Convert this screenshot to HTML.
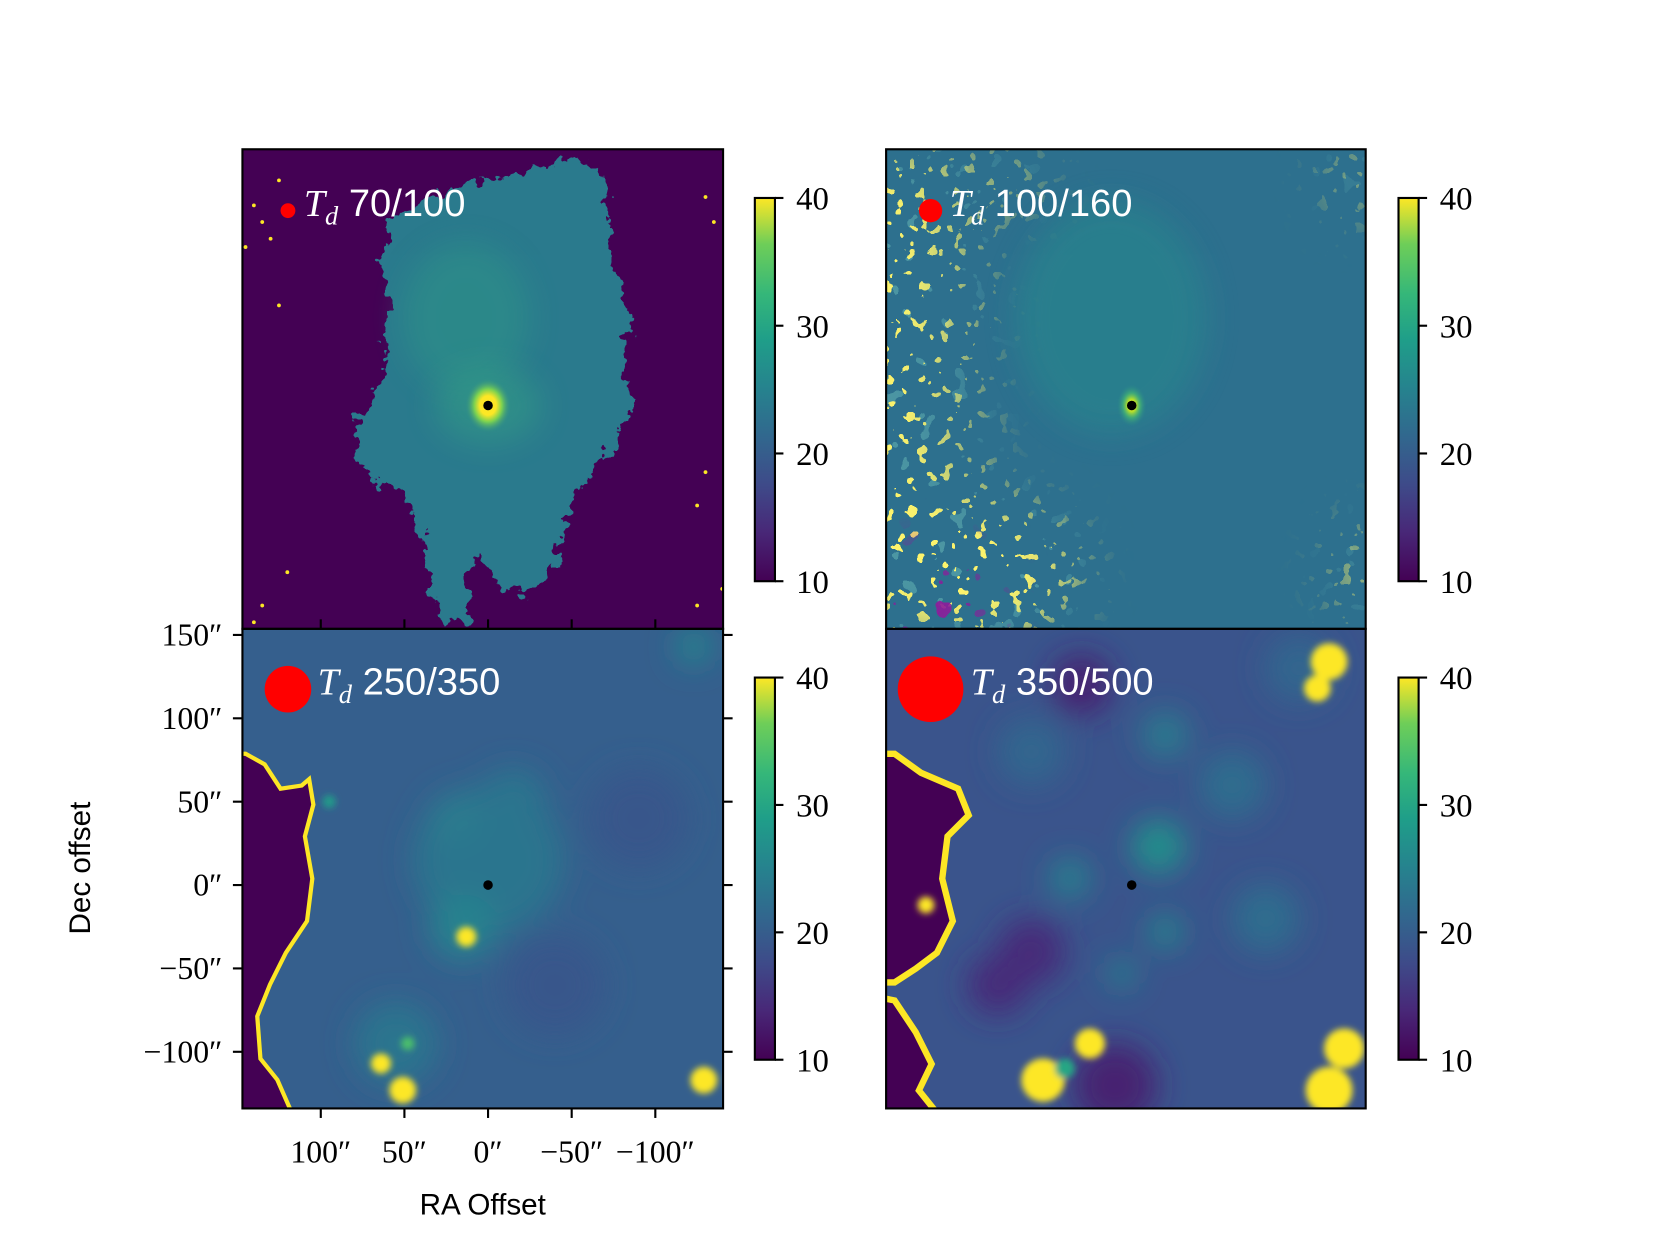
<!DOCTYPE html>
<html><head><meta charset="utf-8"><style>html,body{margin:0;padding:0;background:#fff}svg{display:block}</style></head>
<body>
<svg id="fig" width="1660" height="1245" viewBox="0 0 1568 1176" preserveAspectRatio="none" xmlns="http://www.w3.org/2000/svg">
<defs>
  <linearGradient id="vir" x1="0" y1="1" x2="0" y2="0">
    <stop offset="0" stop-color="#440154"/><stop offset="0.13" stop-color="#482878"/>
    <stop offset="0.25" stop-color="#3e4a89"/><stop offset="0.38" stop-color="#31688e"/>
    <stop offset="0.5" stop-color="#26828e"/><stop offset="0.63" stop-color="#1f9e89"/>
    <stop offset="0.75" stop-color="#35b779"/><stop offset="0.88" stop-color="#6ece58"/>
    <stop offset="1" stop-color="#fde725"/>
  </linearGradient>
  <clipPath id="c1"><rect x="229" y="141" width="454" height="453"/></clipPath>
  <clipPath id="c2"><rect x="837" y="141" width="453" height="453"/></clipPath>
  <clipPath id="c3"><rect x="229" y="594" width="454" height="453"/></clipPath>
  <clipPath id="c4"><rect x="837" y="594" width="453" height="453"/></clipPath>
  <filter id="rag" x="-10%" y="-10%" width="120%" height="120%">
    <feTurbulence type="fractalNoise" baseFrequency="0.08" numOctaves="3" seed="3"/>
    <feDisplacementMap in="SourceGraphic" scale="26" xChannelSelector="R" yChannelSelector="G"/>
  </filter>
  <filter id="b10" x="-50%" y="-50%" width="200%" height="200%"><feGaussianBlur stdDeviation="14"/></filter>
  <filter id="b20" x="-50%" y="-50%" width="200%" height="200%"><feGaussianBlur stdDeviation="25"/></filter>
  <filter id="b4" x="-50%" y="-50%" width="200%" height="200%"><feGaussianBlur stdDeviation="3"/></filter>
  <filter id="speck" x="0" y="0" width="100%" height="100%">
    <feTurbulence type="fractalNoise" baseFrequency="0.09" numOctaves="2" seed="7" result="n"/>
    <feColorMatrix in="n" type="matrix" values="0 0 0 0 0.99  0 0 0 0 0.9  0 0 0 0 0.15  1 0 0 0 0" result="c"/>
    <feComponentTransfer in="c"><feFuncA type="discrete" tableValues="0 0 0 0 0 0 0 0 1 1 1 1"/></feComponentTransfer>
  </filter>
  <filter id="speckg" x="0" y="0" width="100%" height="100%">
    <feTurbulence type="fractalNoise" baseFrequency="0.06" numOctaves="2" seed="21" result="n"/>
    <feColorMatrix in="n" type="matrix" values="0 0 0 0 0.2  0 0 0 0 0.62  0 0 0 0 0.54  1 0 0 0 0" result="c"/>
    <feComponentTransfer in="c"><feFuncA type="discrete" tableValues="0 0 0 0 0 0 0 0.4 0.4 0.4"/></feComponentTransfer>
  </filter>
  <filter id="speckd" x="0" y="0" width="100%" height="100%">
    <feTurbulence type="fractalNoise" baseFrequency="0.06" numOctaves="2" seed="11" result="n"/>
    <feColorMatrix in="n" type="matrix" values="0 0 0 0 0.27  0 0 0 0 0.01  0 0 0 0 0.33  0 1 0 0 0" result="c"/>
    <feComponentTransfer in="c"><feFuncA type="discrete" tableValues="0 0 0 0 0 0 0 1 1 1"/></feComponentTransfer>
  </filter>
  <mask id="m2"><g filter="url(#b20)">
    <rect x="780" y="141" width="100" height="453" fill="#fff"/>
    <rect x="880" y="141" width="50" height="453" fill="#999"/>
    <ellipse cx="910" cy="540" rx="110" ry="70" fill="#fff"/>
    <ellipse cx="1290" cy="540" rx="30" ry="50" fill="#aaa"/>
    <ellipse cx="1280" cy="170" rx="25" ry="40" fill="#999"/>
    <ellipse cx="930" cy="170" rx="60" ry="30" fill="#999"/>
  </g></mask>
  <mask id="m2d"><ellipse cx="880" cy="570" rx="60" ry="50" fill="#fff" filter="url(#b20)"/></mask>
  <radialGradient id="core"><stop offset="0" stop-color="#fde725"/><stop offset="0.35" stop-color="#fde725"/><stop offset="0.6" stop-color="#7ad151"/><stop offset="1" stop-color="#2a8a8a" stop-opacity="0"/></radialGradient>
  <radialGradient id="core2"><stop offset="0" stop-color="#fde725"/><stop offset="0.3" stop-color="#b5de2b"/><stop offset="0.6" stop-color="#4ac16d" stop-opacity="0.6"/><stop offset="1" stop-color="#2a8a8a" stop-opacity="0"/></radialGradient>
</defs>

<g clip-path="url(#c1)">
  <rect x="229" y="141" width="454" height="453" fill="#440154"/>
  <path filter="url(#rag)" fill="#2b7a8d" d="M420,180 L480,165 L540,150 L570,160 L575,210 L582,260 L598,300 L588,340 L598,380 L580,420 L560,440 L545,470 L530,505 L520,545 L500,560 L470,555 L455,520 L440,545 L445,585 L425,590 L405,555 L400,505 L380,465 L355,455 L338,440 L335,405 L350,380 L362,355 L368,300 L360,250 L370,205 Z"/>
  <ellipse cx="440" cy="300" rx="60" ry="70" fill="#2f9a86" opacity="0.45" filter="url(#b10)"/>
  <ellipse cx="461" cy="383" rx="50" ry="36" fill="#35a683" opacity="0.45" filter="url(#b10)"/>
  <ellipse cx="461" cy="383" rx="22" ry="26" fill="url(#core)"/>
  <g id="p1-specks"></g>
</g>
<g clip-path="url(#c2)">
  <rect x="837" y="141" width="453" height="453" fill="#2d708e"/>
  <ellipse cx="1050" cy="300" rx="90" ry="110" fill="#27888d" opacity="0.6" filter="url(#b10)"/>
  <rect x="837" y="141" width="453" height="453" filter="url(#speckg)" mask="url(#m2)"/>
  <rect x="837" y="141" width="453" height="453" filter="url(#speck)" mask="url(#m2)"/>
  <rect x="837" y="141" width="453" height="453" filter="url(#speckd)" mask="url(#m2d)"/>
  <ellipse cx="1069" cy="383" rx="14" ry="20" fill="url(#core2)"/>
</g>
<g clip-path="url(#c3)">
  <rect x="229" y="594" width="454" height="453" fill="#355f8d"/>
  <g id="p3-soft" filter="url(#b10)"></g>
  <path fill="#440154" stroke="#fde725" stroke-width="4" d="M210,712 L232,712 L250,722 L265,745 L285,742 L292,736 L296,760 L288,790 L295,830 L290,870 L270,900 L255,930 L243,960 L246,1000 L262,1020 L276,1052 L210,1052 Z"/>
  <g id="p3-hot" filter="url(#b4)"></g>
</g>
<g clip-path="url(#c4)">
  <rect x="837" y="594" width="453" height="453" fill="#3a548c"/>
  <g id="p4-soft" filter="url(#b10)"></g>
  <path fill="#440154" stroke="#fde725" stroke-width="6" d="M820,712 L845,712 L870,730 L905,745 L915,770 L895,790 L890,830 L900,870 L885,900 L865,915 L845,928 L820,928 Z"/>
  <path fill="#440154" stroke="#fde725" stroke-width="6" d="M820,940 L845,945 L865,975 L880,1005 L868,1030 L888,1055 L820,1055 Z"/>
  <g id="p4-hot" filter="url(#b4)"></g>
</g>

<g id="frames" fill="none" stroke="#000" stroke-width="2">
  <rect x="229" y="141" width="454" height="453"/>
  <rect x="837" y="141" width="453" height="453"/>
  <rect x="229" y="594" width="454" height="453"/>
  <rect x="837" y="594" width="453" height="453"/>
</g>
<g id="overlays"></g>
<g id="axes"></g>
<text x="456" y="1147" font-family="Liberation Sans, sans-serif" font-size="28" text-anchor="middle">RA Offset</text>
<text transform="translate(85,820) rotate(-90)" font-family="Liberation Sans, sans-serif" font-size="28" text-anchor="middle">Dec offset</text>
</svg>
<script>
const NS = 'http://www.w3.org/2000/svg';
const panelCenters = [[461,383],[1069,383],[461,836],[1069,836]];
const panelTitles = ['70/100','100/160','250/350','350/500'];
const beamSizes = [7, 11, 22, 31];
const cbarTicks = [10, 20, 30, 40];
const xTickVals = [100, 50, 0, -50, -100];
const yTickVals = [150, 100, 50, 0, -50, -100];
// patches: [ra, dec, radius(arcsec), T]
const p3Soft = [[0,15,45,23],[15,-25,20,25],[-15,50,20,23],[55,-95,25,23],[-123,143,10,26],[20,40,15,24],[-40,-60,30,19],[-90,40,30,19]];
const p3Hot = [[13,-31,6,40],[64,-107,6,40],[51,-123,8,40],[48,-95,4,34],[-129,-117,8,40],[95,50,4,28]];
const p4Soft = [[-16,23,16,27],[37,4,12,25],[-20,-28,10,26],[6,-53,8,26],[30,120,18,13],[-60,60,20,22],[60,-40,20,14],[-80,-20,20,22],[-20,90,14,24],[10,-120,25,13],[80,-60,18,14],[-100,130,20,21],[60,80,20,21]];
const p4Hot = [[-118,134,11,40],[-111,118,8,40],[53,-117,13,40],[25,-95,9,40],[-127,-98,12,40],[-118,-123,14,40],[123,-12,5,40],[40,-110,6,30]];
const p1Specks = [[140,120],[135,110],[130,100],[145,95],[125,135],[-130,125],[-135,110],[-140,-110],[-125,-120],[135,-120],[140,-130],[-130,-40],[-125,-60],[125,60],[120,-100]];

const cmap = [[10,[68,1,84]],[13.75,[72,40,120]],[17.5,[62,74,137]],[21.25,[49,104,142]],[25,[38,130,142]],[28.75,[31,158,137]],[32.5,[53,183,121]],[36.25,[110,206,88]],[40,[253,231,37]]];
function viridis(t){
  t = Math.max(10, Math.min(40, t));
  for(let i=0;i<cmap.length-1;i++){
    const a=cmap[i], b=cmap[i+1];
    if(t<=b[0]){ const f=(t-a[0])/(b[0]-a[0]); const c=a[1].map((v,k)=>Math.round(v+(b[1][k]-v)*f)); return 'rgb('+c.join(',')+')'; }
  }
  return 'rgb(253,231,37)';
}
function sx(p, ra){ return panelCenters[p][0] - 1.58*ra; }
function sy(p, dec){ return panelCenters[p][1] - 1.575*dec; }
function cbY(p, t){ const top = p<2?187:640, bot = p<2?549:1001; return bot - (t-10)/30*(bot-top); }

function drawBlobs(id, p, arr, name){
  const g = document.getElementById(id);
  arr.forEach(b=>{
    const e = document.createElementNS(NS,'ellipse');
    
    
    e.setAttribute('cx', sx(p,b[0])); e.setAttribute('cy', sy(p,b[1]));
    e.setAttribute('rx', b[2]*1.58); e.setAttribute('ry', b[2]*1.575);
    e.setAttribute('fill', viridis(b[3]));
    g.appendChild(e);
  });
}
drawBlobs('p3-soft',2,p3Soft,'soft-patch');
drawBlobs('p3-hot',2,p3Hot,'hot-spot');
drawBlobs('p4-soft',3,p4Soft,'soft-patch');
drawBlobs('p4-hot',3,p4Hot,'hot-spot');
(function(){
  const g = document.getElementById('p1-specks');
  p1Specks.forEach(s=>{
    const c = document.createElementNS(NS,'circle');
    
    
    c.setAttribute('cx', sx(0,s[0])); c.setAttribute('cy', sy(0,s[1])); c.setAttribute('r', 1.8);
    c.setAttribute('fill', '#fde725'); g.appendChild(c);
  });
})();

const ov = document.getElementById('overlays');
const ax = document.getElementById('axes');
function mk(tag, attrs, parent){ const e=document.createElementNS(NS,tag); for(const k in attrs) e.setAttribute(k, attrs[k]); parent.appendChild(e); return e; }

panelCenters.forEach((c,p)=>{
  const src = mk('circle',{cx:c[0],cy:c[1],r:4.5,fill:'#000'},ov);
  
  
  const bx = p%2===0 ? 272 : 879, by = p<2 ? 199 : 651;
  const beam = mk('circle',{cx:bx,cy:by,r:beamSizes[p],fill:'#ff0000'},ov);
  
  
  const tx = bx + (p===0?15:p===1?18:28) + (p===3?10:0);
  const t = mk('text',{x:tx,y:by+5,fill:'#fff','font-size':36},ov);
  
  
  t.innerHTML = '<tspan font-family="Liberation Serif, serif" font-style="italic">T</tspan><tspan font-family="Liberation Serif, serif" font-style="italic" font-size="25" dy="8">d</tspan><tspan font-family="Liberation Sans, sans-serif" dy="-8"> '+panelTitles[p]+'</tspan>';
  const cx0 = p%2===0 ? 713 : 1321;
  const top = cbY(p,40), bot = cbY(p,10);
  const cb = mk('rect',{x:cx0,y:top,width:19,height:bot-top,fill:'url(#vir)',stroke:'#000','stroke-width':2},ax);
  
  
  cbarTicks.forEach(v=>{
    const y = cbY(p,v);
    mk('line',{x1:cx0+19,x2:cx0+27,y1:y,y2:y,stroke:'#000','stroke-width':2},ax);
    const l = mk('text',{x:cx0+39,y:y+11,'font-family':'Liberation Serif, serif','font-size':31},ax);
    
    
    l.textContent = v;
  });
});
xTickVals.forEach(v=>{
  const x = sx(2,v);
  mk('line',{x1:x,x2:x,y1:1047,y2:1056,stroke:'#000','stroke-width':2},ax);
  mk('line',{x1:x,x2:x,y1:585,y2:594,stroke:'#000','stroke-width':2},ax);
  const l = mk('text',{x:x,y:1098,'font-family':'Liberation Serif, serif','font-size':30,'text-anchor':'middle'},ax);
  
  
  l.textContent = (v<0?'\u2212'+(-v):v)+'\u2033';
});
yTickVals.forEach(v=>{
  const y = sy(2,v);
  mk('line',{x1:220,x2:229,y1:y,y2:y,stroke:'#000','stroke-width':2},ax);
  mk('line',{x1:683,x2:692,y1:y,y2:y,stroke:'#000','stroke-width':2},ax);
  const l = mk('text',{x:210,y:y+10,'font-family':'Liberation Serif, serif','font-size':30,'text-anchor':'end'},ax);
  
  
  l.textContent = (v<0?'\u2212'+(-v):v)+'\u2033';
});
</script>
</body></html>
